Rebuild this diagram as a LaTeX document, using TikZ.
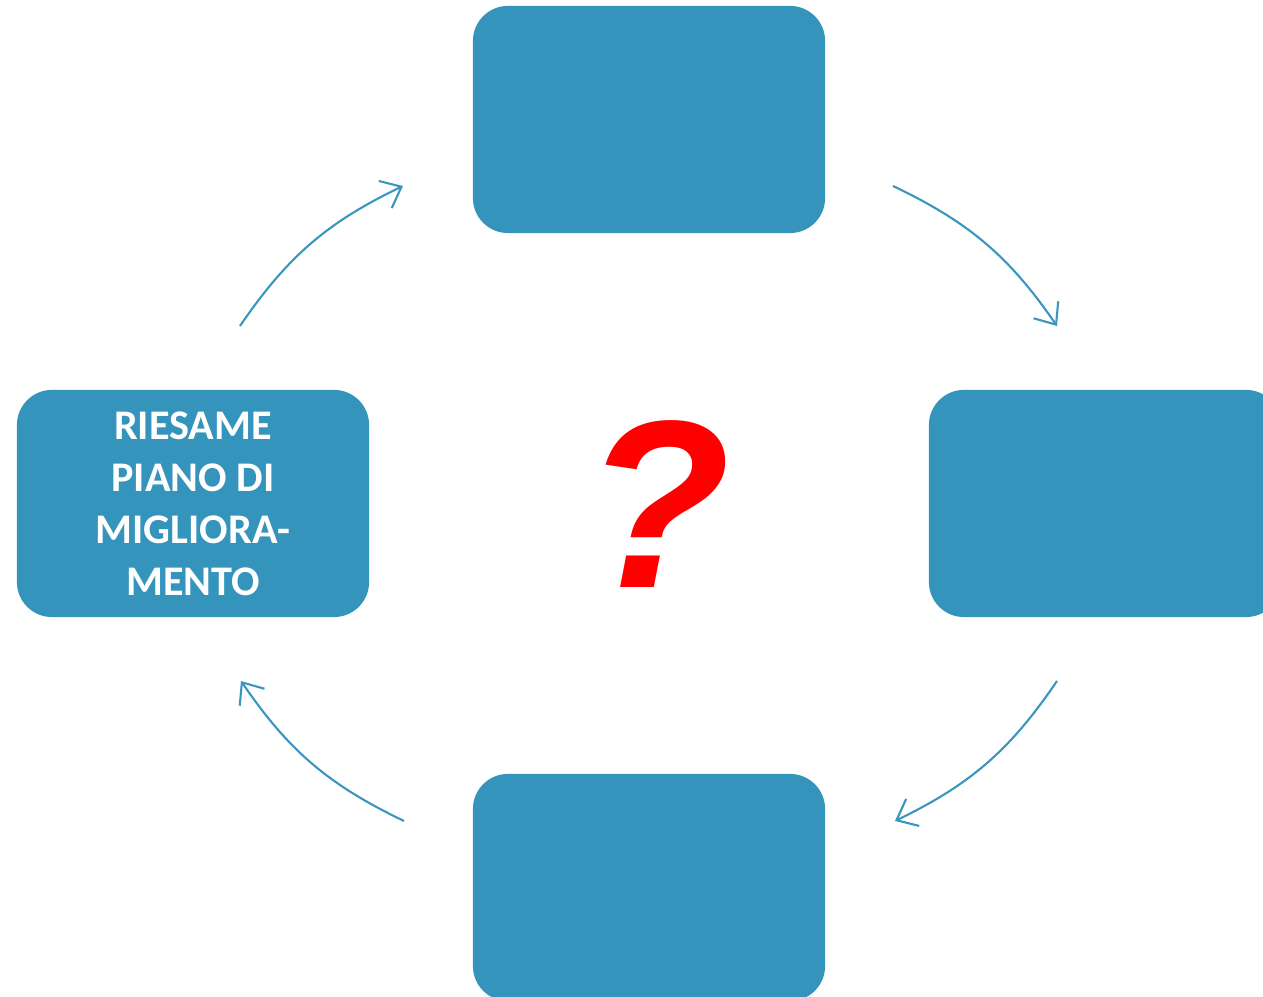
\documentclass[tikz,border=0pt]{standalone}
\usepackage{fontspec}
\setmainfont{Carlito}
\newfontfamily\qmarkfont{Liberation Sans}
\usetikzlibrary{arrows.meta,positioning}
\definecolor{boxblue}{HTML}{3594BB}
\definecolor{arcblue}{HTML}{3A96BE}
\definecolor{qred}{HTML}{FF0000}
\tikzset{
  phase/.style={fill=boxblue,draw=none,rounded corners=0.35cm,align=center,
    minimum width=3.52cm,minimum height=2.27cm,text=white,
    font=\fontsize{12pt}{14.8pt}\selectfont\bfseries},
  cycle/.style={-{Straight Barb[length=1.8mm,width=3mm]},draw=arcblue,line width=0.6pt,bend left=15},
  query/.style={text=qred,inner sep=0pt,font=\qmarkfont\fontsize{68pt}{68pt}\selectfont\bfseries\itshape}
}
\begin{document}
\begin{tikzpicture}[x=0.01cm,y=0.01cm]
  \useasboundingbox (0,0) rectangle (1263,997);
  \node[phase] (plan) at (649,877.5) {};
  \node[phase] (riesame) at (193,493.5) {RIESAME\\PIANO DI\\MIGLIORA-\\MENTO};
  \node[phase] (do) at (1105,493.5) {};
  \node[phase] (check) at (649,109.5) {};
  \node[query] (q) at (657.5,493) {?};
  % arc end points
  \coordinate (a1s) at (240,671);  \coordinate (a1e) at (403,811);
  \coordinate (a2s) at (893,811);  \coordinate (a2e) at (1057,671);
  \coordinate (a3s) at (1057,316); \coordinate (a3e) at (895,176);
  \coordinate (a4s) at (404,176);  \coordinate (a4e) at (241,316);
  \draw[cycle] (a1s) to (a1e);
  \draw[cycle] (a2s) to (a2e);
  \draw[cycle] (a3s) to (a3e);
  \draw[cycle] (a4s) to (a4e);
\end{tikzpicture}
\end{document}
